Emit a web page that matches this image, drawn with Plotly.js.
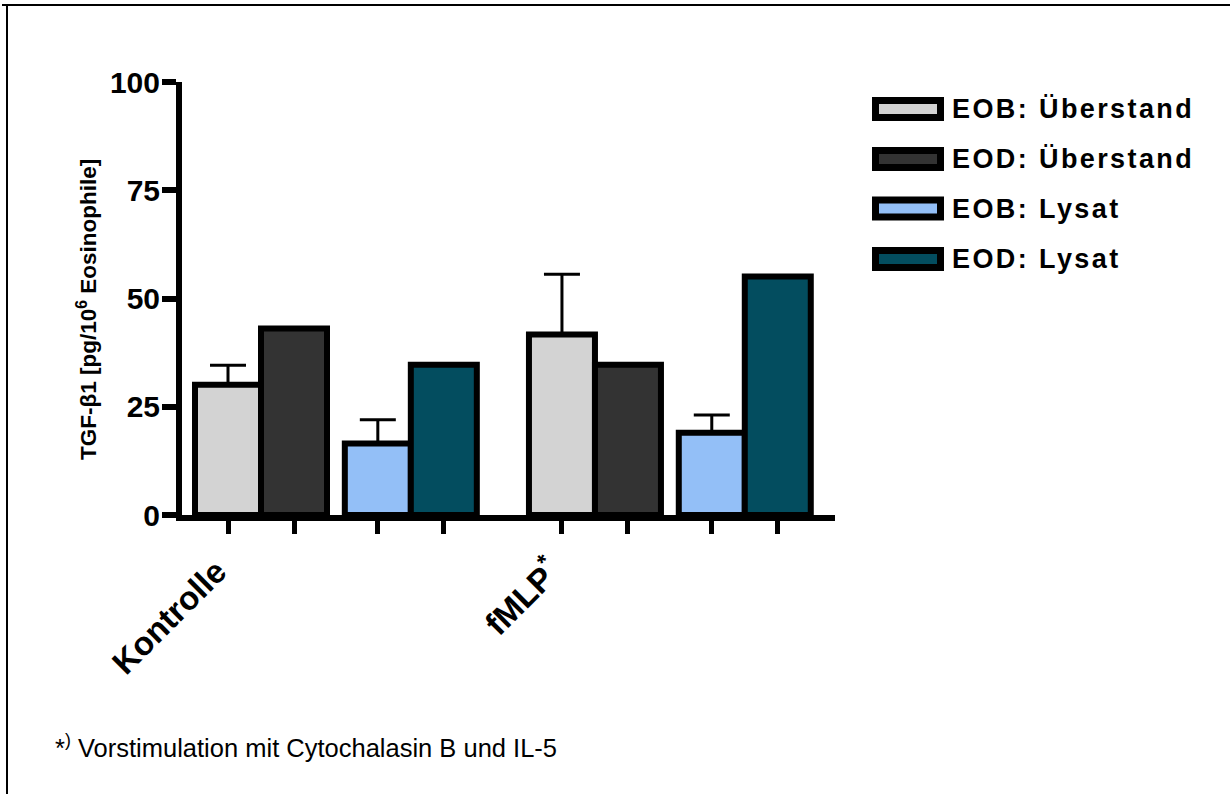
<!DOCTYPE html>
<html>
<head>
<meta charset="utf-8">
<script src="https://cdn.plot.ly/plotly-3.0.1.min.js"></script>
<style>
  html, body { margin: 0; padding: 0; background: #fff; }
  #chart { width: 1230px; height: 794px; }
  /* legend labels: wide letter spacing as in the reference (also applies to Plotly's measuring clone) */
  text[style*="font-size: 27px"] { letter-spacing: 2.4px; }
</style>
</head>
<body>
<div id="chart"></div>
<script>
// ---- data ----
const categories = ["Kontrolle", "fMLP<sup>*</sup>"];
const seriesNames = ["EOB: Überstand", "EOD: Überstand", "EOB: Lysat", "EOD: Lysat"];
const eobUeberstand = [30.1, 41.7];
const eobUeberstandErr = [4.5, 13.9];
const eodUeberstand = [43.1, 34.7];
const eobLysat = [16.5, 19.0];
const eobLysatErr = [5.5, 4.1];
const eodLysat = [34.7, 55.1];
const yTicks = [0, 25, 50, 75, 100];
const yTitle = "TGF-β1 [pg/10<sup>6</sup> Eosinophile]";
const footnote = "*<sup>)</sup> Vorstimulation mit Cytochalasin B und IL-5";

// ---- style / layout ----
const colors = ["#D3D3D3", "#333333", "#93BFF7", "#034D5F"];
const seriesValues = [eobUeberstand, eodUeberstand, eobLysat, eodLysat];
const seriesErr = [eobUeberstandErr, null, eobLysatErr, null];

const W = 1230, H = 794;
const M = { l: 182, r: 395, t: 82, b: 279 };
const PW = W - M.l - M.r, PH = H - M.t - M.b;
const px2x = p => (p - M.l) / PW;
const px2y = p => (H - M.b - p) / PH;

const slotOffsets = [0, 1, 2.27, 3.27];  // bar slot offsets inside a group
const groupStep = 5.06;
const labelShift = -0.17;                // category label anchor shift (layout)
const FONT = "Liberation Sans, Arial, Helvetica, sans-serif";

const traces = seriesValues.map((vals, i) => {
  const t = {
    type: "bar",
    name: seriesNames[i],
    x: categories.map((c, g) => g * groupStep + slotOffsets[i]),
    y: vals,
    width: 1,
    marker: { color: colors[i], line: { color: "#000", width: 6 } },
    showlegend: false,
    hoverinfo: "y+name"
  };
  if (seriesErr[i]) {
    t.error_y = {
      type: "data", symmetric: false,
      array: seriesErr[i], arrayminus: vals.map(() => 0),
      color: "#000", thickness: 3, width: 18
    };
  }
  return t;
});

const tickPos = [];
categories.forEach((c, g) => slotOffsets.forEach(o => tickPos.push(g * groupStep + o)));
const labelPos = categories.map((c, g) => g * groupStep + slotOffsets[0] + labelShift);

const unit = 66;
const xr = [(M.l - 228) / unit, (M.l + PW - 228) / unit];

const shapes = [
  { type: "line", xref: "paper", yref: "paper", x0: px2x(2), x1: px2x(1230), y0: px2y(5), y1: px2y(5), line: { color: "#000", width: 2 } },
  { type: "line", xref: "paper", yref: "paper", x0: px2x(7), x1: px2x(7), y0: px2y(5), y1: px2y(794), line: { color: "#000", width: 2 } }
];
const annotations = [];
const legRows = [109, 159, 208.5, 259];
seriesNames.forEach((n, i) => {
  shapes.push({
    type: "rect", xref: "paper", yref: "paper",
    x0: px2x(875.5), x1: px2x(940.5), y0: px2y(legRows[i] - 8.5), y1: px2y(legRows[i] + 8.5),
    fillcolor: colors[i], line: { color: "#000", width: 7 }
  });
  annotations.push({
    xref: "paper", yref: "paper", x: px2x(950), y: px2y(legRows[i]),
    xanchor: "left", yanchor: "middle", showarrow: false,
    text: n,
    font: { family: FONT, size: 27, weight: "bold", color: "#000" }
  });
});
annotations.push({
  xref: "paper", yref: "paper", x: px2x(53), y: px2y(746),
  xanchor: "left", yanchor: "middle", showarrow: false,
  text: footnote,
  font: { family: FONT, size: 25.5, color: "#000" }
});
annotations.push({
  xref: "paper", yref: "paper", x: px2x(87), y: px2y(310),
  xanchor: "center", yanchor: "middle", showarrow: false, textangle: -90,
  text: yTitle,
  font: { family: FONT, size: 22.5, weight: "bold", color: "#000" }
});

const layout = {
  width: W, height: H,
  margin: M,
  paper_bgcolor: "#fff", plot_bgcolor: "#fff",
  barmode: "overlay",
  showlegend: false,
  font: { family: FONT, color: "#000" },
  xaxis: {
    range: xr, tickmode: "array", tickvals: tickPos,
    showticklabels: false,
    ticks: "outside", ticklen: 13, tickwidth: 5, tickcolor: "#000",
    showline: true, linecolor: "#000", linewidth: 6,
    showgrid: false, zeroline: false
  },
  xaxis2: {
    overlaying: "x", anchor: "y", side: "bottom",
    range: xr, tickmode: "array", tickvals: labelPos, ticktext: categories,
    tickangle: -45, ticks: "outside", ticklen: 23, tickwidth: 0, tickcolor: "rgba(0,0,0,0)",
    showline: false, showgrid: false, zeroline: false,
    tickfont: { family: FONT, size: 33, weight: "bold", color: "#000" }
  },
  yaxis: {
    range: [0, 100], tickmode: "array", tickvals: yTicks,
    ticks: "outside", ticklen: 14, tickwidth: 6, tickcolor: "#000",
    ticklabelstandoff: -4,
    showline: true, linecolor: "#000", linewidth: 6,
    showgrid: false, zeroline: false,
    tickfont: { family: FONT, size: 30, weight: "bold", color: "#000" }
  },
  shapes: shapes,
  annotations: annotations
};

traces.push({ type: "scatter", x: [], y: [], xaxis: "x2", yaxis: "y", showlegend: false, hoverinfo: "skip" });

Plotly.newPlot("chart", traces, layout, { displayModeBar: false, staticPlot: true });
</script>
</body>
</html>
